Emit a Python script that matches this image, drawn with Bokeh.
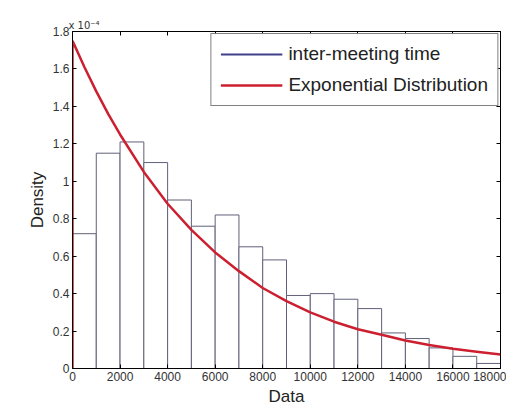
from bokeh.plotting import figure
from bokeh.models import LinearAxis, FixedTicker, CustomJSTickFormatter, Range1d, Legend, LegendItem
from bokeh.embed import file_html
from bokeh.resources import INLINE

# Histogram bins (Data) and densities (x 1e-4)
bin_left = [0, 1000, 2000, 3000, 4000, 5000, 6000, 7000, 8000, 9000,
            10000, 11000, 12000, 13000, 14000, 15000, 16000, 17000]
bin_right = [1000, 2000, 3000, 4000, 5000, 6000, 7000, 8000, 9000, 10000,
             11000, 12000, 13000, 14000, 15000, 16000, 17000, 18000]
density = [0.72, 1.15, 1.21, 1.10, 0.90, 0.76, 0.82, 0.65, 0.58, 0.39,
           0.40, 0.37, 0.32, 0.19, 0.16, 0.11, 0.065, 0.027]

# Fitted exponential curve (x 1e-4)
curve_x = [0, 0, 500, 1000, 1500, 2000, 3000, 4000, 5000, 6000, 7000, 8000,
           9000, 10000, 11000, 12000, 13000, 14000, 15000, 16000, 17000, 18000]
curve_y = [0.0, 1.75, 1.61, 1.48, 1.36, 1.25, 1.05, 0.88, 0.74, 0.62, 0.52, 0.43,
           0.36, 0.30, 0.25, 0.21, 0.18, 0.15, 0.125, 0.105, 0.09, 0.075]

x_ticks = [0, 2000, 4000, 6000, 8000, 10000, 12000, 14000, 16000, 18000]
y_ticks = [0, 0.2, 0.4, 0.6, 0.8, 1.0, 1.2, 1.4, 1.6, 1.8]

p = figure(width=506, height=408, output_backend="svg", toolbar_location=None,
           x_range=Range1d(0, 18000), y_range=Range1d(0, 1.8),
           min_border_left=72, min_border_right=6, min_border_top=31, min_border_bottom=36,
           title="x 10\u207b\u2074")
p.title.align = "left"
p.title.offset = -4
p.title.text_font = "DejaVu Sans"
p.title.text_font_size = "10px"
p.title.text_font_style = "normal"
p.title.text_color = "#333333"
p.title.standoff = 2
p.xgrid.visible = False
p.ygrid.visible = False
p.outline_line_color = "black"
p.outline_line_width = 1

bars = p.quad(left=bin_left, right=bin_right, bottom=0, top=density,
              fill_color="white", line_color="#60607a", line_width=1)
curve = p.line(curve_x, curve_y, line_color="#cc2030", line_width=2.5)

bottom_ax = p.below[0]
left_ax = p.left[0]

fmt = CustomJSTickFormatter(code="return (Math.round(tick*10)/10).toString();")

bottom_ax.ticker = FixedTicker(ticks=x_ticks)
bottom_ax.axis_label = "Data"
left_ax.ticker = FixedTicker(ticks=y_ticks)
left_ax.formatter = fmt
left_ax.axis_label = "Density"

top_ax = LinearAxis(ticker=FixedTicker(ticks=x_ticks), major_label_text_color=None,
                    major_label_text_font_size="1px", major_label_standoff=0)
right_ax = LinearAxis(ticker=FixedTicker(ticks=y_ticks), major_label_text_color=None,
                      major_label_text_font_size="1px", major_label_standoff=0)
p.add_layout(top_ax, "above")
p.add_layout(right_ax, "right")

for ax in [bottom_ax, left_ax, top_ax, right_ax]:
    ax.major_tick_in = 4
    ax.major_tick_out = 0
    ax.minor_tick_line_color = None
    ax.axis_line_color = "black"
    ax.major_tick_line_color = "black"

for ax in [bottom_ax, left_ax]:
    ax.major_label_text_font = "Liberation Sans"
    ax.major_label_text_font_size = "12px"
    ax.major_label_text_color = "#333333"
    ax.axis_label_text_font = "Liberation Sans"
    ax.axis_label_text_font_style = "normal"
    ax.axis_label_text_font_size = "17px"
    ax.axis_label_text_color = "#222222"
    ax.major_label_standoff = 3
    ax.axis_label_standoff = 3

blue = p.line([0], [0], line_color="#40408a", line_width=2, visible=False)
legend = Legend(items=[LegendItem(label="inter-meeting time", renderers=[blue]),
                       LegendItem(label="Exponential Distribution", renderers=[curve])],
                location="top_right", margin=2, padding=9, spacing=9,
                glyph_width=62, glyph_height=20, label_height=22, label_standoff=6,
                label_text_font="Liberation Sans", label_text_font_size="19px",
                label_text_color="#222222",
                border_line_color="black", border_line_width=1.5)
p.add_layout(legend, "center")

open("out.html", "w").write(file_html(p, INLINE))
